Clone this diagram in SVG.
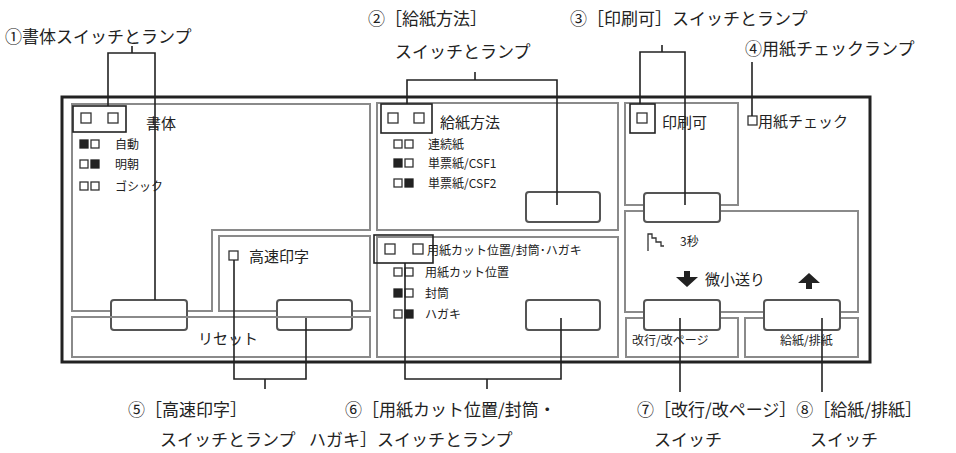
<svg xmlns="http://www.w3.org/2000/svg" width="956" height="453" viewBox="0 0 956 453">
<style>
text{font-family:"Noto Sans CJK JP","Noto Sans",sans-serif;fill:#222}
.lbl{font-size:17px}
.pt{font-size:15px}
.sm{font-size:12px}
.box{fill:none;stroke:#8a8a8a;stroke-width:2}
.btn{fill:#fff;stroke:#555;stroke-width:2}
.lamp{fill:#fff;stroke:#333;stroke-width:1.3}
.on{fill:#222;stroke:#222;stroke-width:1.3}
.frame{fill:none;stroke:#222;stroke-width:1.6}
.con{fill:none;stroke:#222;stroke-width:1.6}
</style>
<rect x="0" y="0" width="956" height="453" fill="#fff"/>
<g id="panel">
<rect x="62" y="97" width="808" height="265" fill="none" stroke="#222" stroke-width="3"/>
</g>
<g id="font-section">
<path class="box" d="M72 104H370V230H212V311H72Z"/>
<rect class="frame" x="73" y="106" width="53" height="26"/>
<rect class="lamp" x="81" y="113" width="10" height="10"/><rect class="lamp" x="108" y="113" width="10" height="10"/>
<text class="pt" x="146" y="129">書体</text>
<rect class="on" x="80" y="140" width="8" height="8"/><rect class="lamp" x="91" y="140" width="8" height="8"/><text class="sm" x="115" y="149">自動</text>
<rect class="lamp" x="80" y="160" width="8" height="8"/><rect class="on" x="91" y="160" width="8" height="8"/><text class="sm" x="115" y="169" fill="#666">明朝</text>
<rect class="lamp" x="80" y="182" width="8" height="8"/><rect class="lamp" x="91" y="182" width="8" height="8"/><text class="sm" x="115" y="191">ゴシック</text>
<rect class="btn" x="111" y="300" width="76" height="30" rx="3"/>
</g>
<g id="speed-section">
<rect class="box" x="219" y="236" width="151" height="75"/>
<rect class="lamp" x="229" y="251" width="9" height="9"/>
<text class="pt" x="249" y="262">高速印字</text>
<rect class="btn" x="277" y="300" width="75" height="30" rx="3"/>
</g>
<g id="reset-section">
<rect class="box" x="72" y="317" width="298" height="40"/>
<text class="pt" x="198" y="344">リセット</text>
</g>
<g id="feed-section">
<rect class="box" x="377" y="103" width="241" height="127"/>
<rect class="frame" x="381" y="104" width="51" height="29"/>
<rect class="lamp" x="388" y="113" width="10" height="10"/><rect class="lamp" x="414" y="113" width="10" height="10"/>
<text class="pt" x="440" y="128">給紙方法</text>
<rect class="lamp" x="394" y="140" width="8" height="8"/><rect class="lamp" x="405" y="140" width="8" height="8"/><text class="sm" x="428" y="149">連続紙</text>
<rect class="on" x="394" y="159" width="8" height="8"/><rect class="lamp" x="405" y="159" width="8" height="8"/><text class="sm" x="428" y="168">単票紙/CSF1</text>
<rect class="lamp" x="394" y="179" width="8" height="8"/><rect class="on" x="405" y="179" width="8" height="8"/><text class="sm" x="428" y="188">単票紙/CSF2</text>
<rect class="btn" x="526" y="192" width="74" height="30" rx="3"/>
</g>
<g id="cut-section">
<rect class="box" x="377" y="237" width="241" height="120"/>
<rect class="frame" x="374" y="235" width="59" height="28"/>
<rect class="lamp" x="385" y="244" width="10" height="10"/><rect class="lamp" x="413" y="244" width="10" height="10"/>
<text class="sm" x="427" y="255">用紙カット位置/封筒･ハガキ</text>
<rect class="lamp" x="394" y="268" width="8" height="8"/><rect class="lamp" x="405" y="268" width="8" height="8"/><text class="sm" x="425" y="277">用紙カット位置</text>
<rect class="on" x="394" y="289" width="8" height="8"/><rect class="lamp" x="405" y="289" width="8" height="8"/><text class="sm" x="425" y="298">封筒</text>
<rect class="lamp" x="394" y="310" width="8" height="8"/><rect class="on" x="405" y="310" width="8" height="8"/><text class="sm" x="425" y="319">ハガキ</text>
<rect class="btn" x="526" y="300" width="74" height="30" rx="3"/>
</g>
<g id="print-section">
<rect class="box" x="625" y="103" width="113" height="102"/>
<rect class="frame" x="630" y="104" width="25" height="29"/>
<rect class="lamp" x="637" y="113" width="10" height="10"/>
<text class="pt" x="662" y="128">印刷可</text>
</g>
<g id="paper-check">
<rect class="lamp" x="748" y="116" width="9" height="9"/>
<text class="pt" x="758" y="127">用紙チェック</text>
</g>
<g id="micro-section">
<rect class="box" x="625" y="211" width="233" height="101"/>
<path d="M648 251V234h4v4h4v4h5v4h3" fill="none" stroke="#333" stroke-width="1.3"/>
<text class="sm" x="680" y="246">3秒</text>
<path d="M676 277h8v-6h6v6h8l-11 10z" fill="#222"/>
<text class="pt" x="705" y="285">微小送り</text>
<path d="M798 283h8v6h6v-6h8l-11-10z" fill="#222"/>
<rect class="btn" x="644" y="193" width="76" height="29" rx="3"/>
</g>
<g id="lf-section">
<rect class="box" x="626" y="318" width="112" height="39"/>
<text class="sm" x="632" y="345">改行/改ページ</text>
<rect class="btn" x="644" y="300" width="76" height="30" rx="3"/>
</g>
<g id="ff-section">
<rect class="box" x="745" y="318" width="113" height="39"/>
<text class="sm" x="780" y="345">給紙/排紙</text>
<rect class="btn" x="764" y="300" width="76" height="30" rx="3"/>
</g>
<g id="connectors">
<path class="con" d="M108 106V53H155V300M132 53V46"/>
<path class="con" d="M407 104V80H557V205M475 80V72"/>
<path class="con" d="M640 104V52H685V205M662 52V45"/>
<path class="con" d="M752 116V62"/>
<path class="con" d="M234 260V379H306V318M265 379V389"/>
<path class="con" d="M405 263V379H561V318M487 379V389"/>
<path class="con" d="M680 318V392"/>
<path class="con" d="M822 318V392"/>
</g>
<g id="labels">
<text class="lbl" x="5" y="43">①書体スイッチとランプ</text>
<text class="lbl" x="368" y="25">②［給紙方法］</text>
<text class="lbl" x="395" y="58">スイッチとランプ</text>
<text class="lbl" x="570" y="25">③［印刷可］スイッチとランプ</text>
<text class="lbl" x="745" y="55">④用紙チェックランプ</text>
<text class="lbl" x="128" y="416">⑤［高速印字］</text>
<text class="lbl" x="160" y="446">スイッチとランプ</text>
<text class="lbl" x="345" y="416">⑥［用紙カット位置/封筒・</text>
<text class="lbl" x="309" y="446">ハガキ］スイッチとランプ</text>
<text class="lbl" x="637" y="416">⑦［改行/改ページ］⑧［給紙/排紙］</text>
<text class="lbl" x="654" y="446">スイッチ</text>
<text class="lbl" x="810" y="446">スイッチ</text>
</g>
</svg>
